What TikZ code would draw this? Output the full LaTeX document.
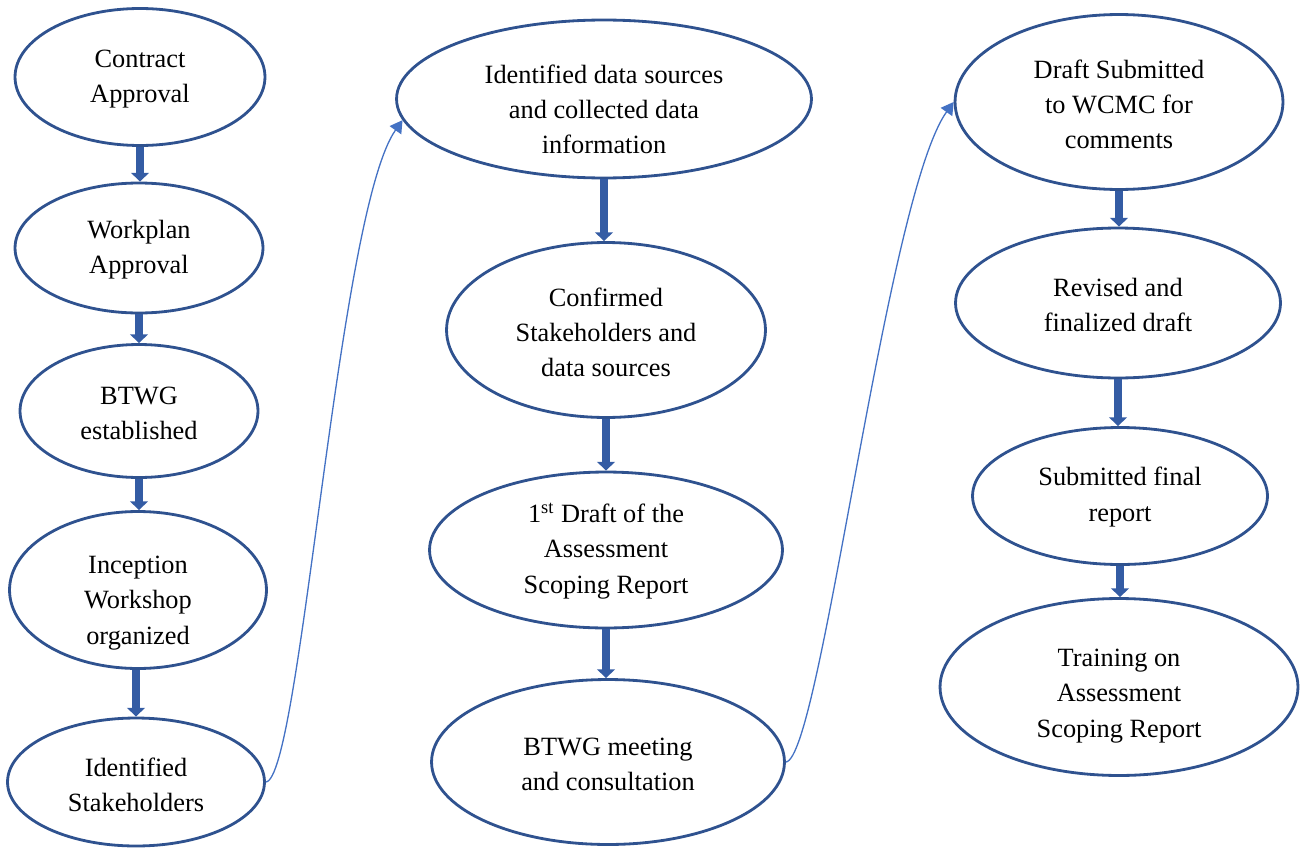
\documentclass[tikz,border=0pt]{standalone}
\usepackage{fontspec}
\setmainfont{Liberation Serif}
\usetikzlibrary{shapes.geometric, arrows.meta}
\definecolor{OfficeEdge}{RGB}{47, 82, 143}
\definecolor{OfficeBlue}{RGB}{68, 114, 196}
\definecolor{ArrowBlue}{RGB}{52, 92, 164}

\begin{document}
\begin{tikzpicture}[x=0.02cm, y=-0.02cm,
    etapa/.style={ellipse, draw=OfficeEdge, line width=1.6pt, inner sep=0pt},
    texto/.style={align=center, inner sep=0pt, font=\fontsize{15}{20}\selectfont},
    flecha/.style={line width=4.5pt, ArrowBlue, -{Triangle[width=10pt, length=5pt]}},
    enlace/.style={OfficeBlue, line width=0.75pt, -{Triangle[width=8pt, length=7pt]}}]
    \useasboundingbox (0,0) rectangle (1304,848);

    % Columna 1
    \node[etapa, minimum width=5.0cm, minimum height=2.74cm] (e1) at (140,77) {};
    \node[texto] (t1) at (140,79) {Contract\\Approval};
    \node[etapa, minimum width=4.96cm, minimum height=2.6cm] (e2) at (139,248) {};
    \node[texto] (t2) at (139,250) {Workplan\\Approval};
    \node[etapa, minimum width=4.76cm, minimum height=2.66cm] (e3) at (139,411) {};
    \node[texto] (t3) at (139,413) {BTWG\\established};
    \node[etapa, minimum width=5.14cm, minimum height=3.14cm] (e4) at (138,590) {};
    \node[texto] (t4) at (138,603) {Inception\\Workshop\\organized};
    \node[etapa, minimum width=5.14cm, minimum height=2.56cm] (e5) at (136,782) {};
    \node[texto] (t5) at (136,785) {Identified\\Stakeholders};

    % Columna 2
    \node[etapa, minimum width=8.3cm, minimum height=3.16cm] (e6) at (604,99) {};
    \node[texto] (t6) at (604,109) {Identified data sources\\and collected data\\information};
    \node[etapa, minimum width=6.38cm, minimum height=3.5cm] (e7) at (606,330) {};
    \node[texto] (t7) at (606,332) {Confirmed\\Stakeholders and\\data sources};
    \node[etapa, minimum width=7.06cm, minimum height=3.12cm] (e8) at (606,550) {};
    \node[texto] (t8) at (606,551) {1\textsuperscript{st} Draft of the\\Assessment\\Scoping Report};
    \node[etapa, minimum width=7.06cm, minimum height=3.3cm] (e9) at (608,762) {};
    \node[texto] (t9) at (608,764) {BTWG meeting\\and consultation};

    % Columna 3
    \node[etapa, minimum width=6.56cm, minimum height=3.5cm] (e10) at (1119,102) {};
    \node[texto] (t10) at (1119,104) {Draft Submitted\\to WCMC for\\comments};
    \node[etapa, minimum width=6.5cm, minimum height=3.0cm] (e11) at (1118,303) {};
    \node[texto] (t11) at (1118,305) {Revised and\\finalized draft};
    \node[etapa, minimum width=5.9cm, minimum height=2.74cm] (e12) at (1120,496) {};
    \node[texto] (t12) at (1120,497) {Submitted final\\report};
    \node[etapa, minimum width=7.16cm, minimum height=3.54cm] (e13) at (1119,687) {};
    \node[texto] (t13) at (1119,696) {Training on\\Assessment\\Scoping Report};

    % Flechas
    \draw[flecha] (e1.south) -- (e1.south |- e2.north);
    \draw[flecha] (e2.south) -- (e2.south |- e3.north);
    \draw[flecha] (e3.south) -- (e3.south |- e4.north);
    \draw[flecha] (e5.north |- e4.south) -- (e5.north);
    \draw[flecha] (e6.south) -- (e6.south |- e7.north);
    \draw[flecha] (e7.south) -- (e7.south |- e8.north);
    \draw[flecha] (e8.south) -- (e8.south |- e9.north);
    \draw[flecha] (e10.south) -- (e10.south |- e11.north);
    \draw[flecha] (e11.south) -- (e11.south |- e12.north);
    \draw[flecha] (e12.south) -- (e12.south |- e13.north);

    % Enlaces entre columnas
    \draw[enlace] (e5.east) .. controls +(35,-3) and +(-65,92) .. (e6.186);
    \draw[enlace] (e9.east) .. controls +(35,-3) and +(-68,95) .. (e10.180);
\end{tikzpicture}
\end{document}
